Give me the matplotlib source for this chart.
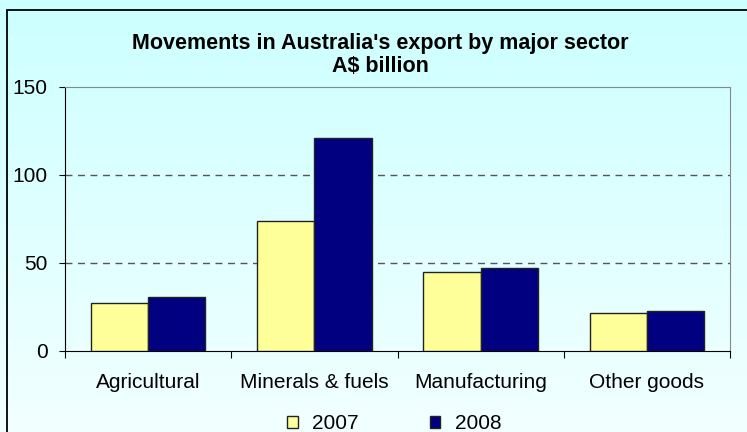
import matplotlib
matplotlib.use("Agg")
import matplotlib.pyplot as plt
from matplotlib.patches import Rectangle
import numpy as np

categories = ["Agricultural", "Minerals & fuels", "Manufacturing", "Other goods"]
years = ["2007", "2008"]
exports_2007 = [27.3, 73.9, 45.1, 21.8]
exports_2008 = [30.7, 121.2, 47.0, 22.7]
yticks = [0, 50, 100, 150]

plt.rcParams["font.family"] = ["Liberation Sans", "DejaVu Sans"]

fig = plt.figure(figsize=(7.47, 4.32), dpi=100)

# gradient background over the whole figure
bg = fig.add_axes([0, 0, 1, 1], zorder=-10)
grad = np.linspace(0, 1, 256).reshape(-1, 1)
top = np.array([0xCC, 0xFF, 0xFF]) / 255
bottom = np.array([0xF2, 0xFF, 0xFF]) / 255
img = top + (bottom - top) * grad[:, :, None]
bg.imshow(img, aspect="auto", extent=[0, 1, 0, 1], origin="upper")
bg.set_xlim(0, 1)
bg.set_ylim(0, 1)
bg.axis("off")
bg.add_patch(Rectangle((7 / 747, -0.05), 1.1, (432 - 10) / 432 + 0.05,
                       fill=False, edgecolor="black", linewidth=1.3,
                       transform=bg.transAxes))

ax = fig.add_axes([65 / 747, 1 - 351 / 432, (730 - 65) / 747, (351 - 87) / 432])
ax.set_facecolor("none")

x = np.arange(len(categories))
w = 0.345
ax.bar(x - w / 2, exports_2007, w, color="#FFFF99", edgecolor="#222222",
       linewidth=1.0, label=years[0], zorder=3)
ax.bar(x + w / 2, exports_2008, w, color="#000080", edgecolor="#222222",
       linewidth=1.0, label=years[1], zorder=3)

ax.set_xlim(-0.5, len(categories) - 0.5)
ax.set_ylim(0, 150)
ax.set_yticks(yticks)
ax.tick_params(axis="y", labelsize=15, length=4.5, width=0.8, pad=8)

ax.set_xticks(x)
ax.set_xticklabels(categories, fontsize=15)
ax.tick_params(axis="x", length=0, pad=16)
ax.set_xticks(np.arange(len(categories) + 1) - 0.5, minor=True)
ax.tick_params(axis="x", which="minor", length=5, width=0.8)

for v in [50, 100]:
    ax.axhline(v, color="#555555", linestyle=(0, (5, 4)), linewidth=1.0, zorder=1)

ax.spines["top"].set_color("#888888")
ax.spines["right"].set_color("#888888")
ax.spines["left"].set_color("black")
ax.spines["bottom"].set_color("black")

fig.text(380 / 747, 1 - 43 / 432, "Movements in Australia's export by major sector",
         ha="center", va="center", fontsize=15.5, fontweight="bold")
fig.text(380 / 747, 1 - 67 / 432, "A$ billion", ha="center", va="center",
         fontsize=15.5, fontweight="bold")

ax.legend(loc="center", bbox_to_anchor=(0.495, -0.276), ncol=2, frameon=False,
          fontsize=15, handlelength=0.5, handleheight=0.5, handletextpad=0.7,
          columnspacing=3.4, borderpad=0)

fig.savefig("out.png", dpi=100)
